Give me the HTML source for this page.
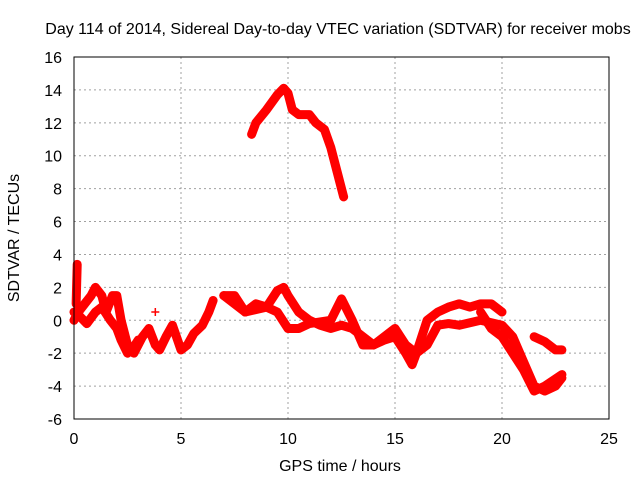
<!DOCTYPE html>
<html><head><meta charset="utf-8"><style>
body{margin:0;background:#fff}
svg{display:block;font-family:"Liberation Sans",sans-serif;font-size:16px}
</style></head><body>
<svg id="chart" width="640" height="480">
<rect width="640" height="480" fill="#fff"/>
<text x="338" y="34" text-anchor="middle" fill="#000">Day 114 of 2014, Sidereal Day-to-day VTEC variation (SDTVAR) for receiver mobs</text>
<g id="grid"></g>
<g id="ticks"></g>
<g id="series"></g>
<rect x="74" y="57" width="535" height="362" fill="none" stroke="#000" stroke-width="1"/>
<text x="340" y="471" text-anchor="middle">GPS time / hours</text>
<text x="19" y="238" text-anchor="middle" transform="rotate(-90 19 238)">SDTVAR / TECUs</text>
</svg>
<script>
const xTicks=[0,5,10,15,20,25];
const yTicks=[-6,-4,-2,0,2,4,6,8,10,12,14,16];
const arcTrace=[[8.3,11.3],[8.5,12],[9,12.8],[9.5,13.7],[9.8,14.1],[10,13.8],[10.2,12.8],[10.5,12.5],[11,12.5],[11.3,12],[11.7,11.6],[12,10.5],[12.3,9],[12.6,7.5]];
const traceA=[[0,0],[0.2,0.5],[0.5,1],[0.8,1.5],[1,2],[1.3,1.5],[1.5,0.5],[1.8,1.5],[2,1.5],[2.2,0],[2.5,-1.5],[2.8,-2],[3,-1.5],[3.2,-1],[3.5,-0.5],[3.8,-1.5],[4,-1.8],[4.3,-1],[4.6,-0.3],[5,-1.8],[5.3,-1.5],[5.6,-0.8],[6,-0.3],[6.3,0.5],[6.5,1.2]];
const traceA2=[[0,0.5],[0.3,0.2],[0.6,-0.2],[1,0.5],[1.3,0.8],[1.7,0],[2,-0.5],[2.2,-1.2],[2.5,-2],[2.7,-1.8],[3,-1.2]];
const spike=[[0.1,1],[0.12,2],[0.15,3.4]];
const traceB=[[7,1.5],[7.5,1.5],[8,0.5],[8.5,1],[9,0.8],[9.5,1.8],[9.8,2],[10,1.5],[10.5,0.5],[11,0],[11.5,-0.3],[12,-0.5],[12.5,-0.3],[13,-0.5],[13.5,-1],[14,-1.5],[14.5,-1],[15,-0.5],[15.5,-1.5],[16,-2],[16.5,0],[17,0.5],[17.5,0.8],[18,1],[18.5,0.8],[19,1],[19.5,1],[20,0.5]];
const traceC=[[7,1.5],[7.5,1],[8,0.5],[9,0.8],[9.5,0.5],[10,-0.5],[10.5,-0.5],[11,-0.2],[12,0],[12.5,1.3],[13,0],[13.5,-1.5],[14,-1.5],[14.5,-1.2],[15,-1],[15.5,-2],[15.8,-2.7],[16,-2],[16.5,-1.5],[17,-0.3],[17.5,-0.2],[18,-0.3],[19,0],[20,-0.3],[20.5,-1],[21,-2.5],[21.5,-4],[22,-4.3],[22.5,-4],[22.8,-3.5]];
const traceD=[[19,0.5],[19.5,-0.5],[20,-1],[20.5,-2],[21,-3],[21.5,-4.3],[22,-4],[22.8,-3.3]];
const traceE=[[21.5,-1],[22,-1.3],[22.5,-1.8],[22.8,-1.8]];
const single=[[3.8,0.5]];
const allTraces=[arcTrace,traceA,traceA2,spike,traceB,traceC,traceD,traceE,single];
const X0=74,X1=609,Y0=419,Y1=57,XMIN=0,XMAX=25,YMIN=-6,YMAX=16;
function sx(v){return X0+(v-XMIN)/(XMAX-XMIN)*(X1-X0);}
function sy(v){return Y0-(v-YMIN)/(YMAX-YMIN)*(Y0-Y1);}
const NS="http://www.w3.org/2000/svg";
const grid=document.getElementById('grid'),ticks=document.getElementById('ticks'),ser=document.getElementById('series');
function mk(tag,at,parent){const e=document.createElementNS(NS,tag);for(const k in at)e.setAttribute(k,at[k]);parent.appendChild(e);return e;}
xTicks.forEach(v=>{
  const x=sx(v);
  if(v>XMIN&&v<XMAX){const g=mk('line',{x1:x,x2:x,y1:Y0,y2:Y1,stroke:'#a0a0a0','stroke-dasharray':'2,3'},grid);
  
  }
  const t=mk('text',{x:x,y:Y0+25,'text-anchor':'middle'},ticks);t.textContent=v;
  
  
});
yTicks.forEach(v=>{
  const y=sy(v);
  if(v>YMIN&&v<YMAX){const g=mk('line',{x1:X0,x2:X1,y1:y,y2:y,stroke:'#a0a0a0','stroke-dasharray':'2,3'},grid);
  
  }
  const t=mk('text',{x:X0-12,y:y+6,'text-anchor':'end'},ticks);t.textContent=v;
  
  
});
allTraces.forEach((tr,i)=>{
  if(tr.length>1){
    const p=mk('polyline',{points:tr.map(d=>sx(d[0])+','+sy(d[1])).join(' '),fill:'none',stroke:'#ff0000','stroke-width':9,'stroke-linejoin':'round','stroke-linecap':'round'},ser);
    
    
  }
  tr.forEach(d=>{
    const x=sx(d[0]),y=sy(d[1]);
    const m=mk('path',{d:`M${x-4},${y}H${x+4}M${x},${y-4}V${y+4}`,stroke:'#ff0000','stroke-width':1.5},ser);
    
    
  });
});
</script>
</body></html>
